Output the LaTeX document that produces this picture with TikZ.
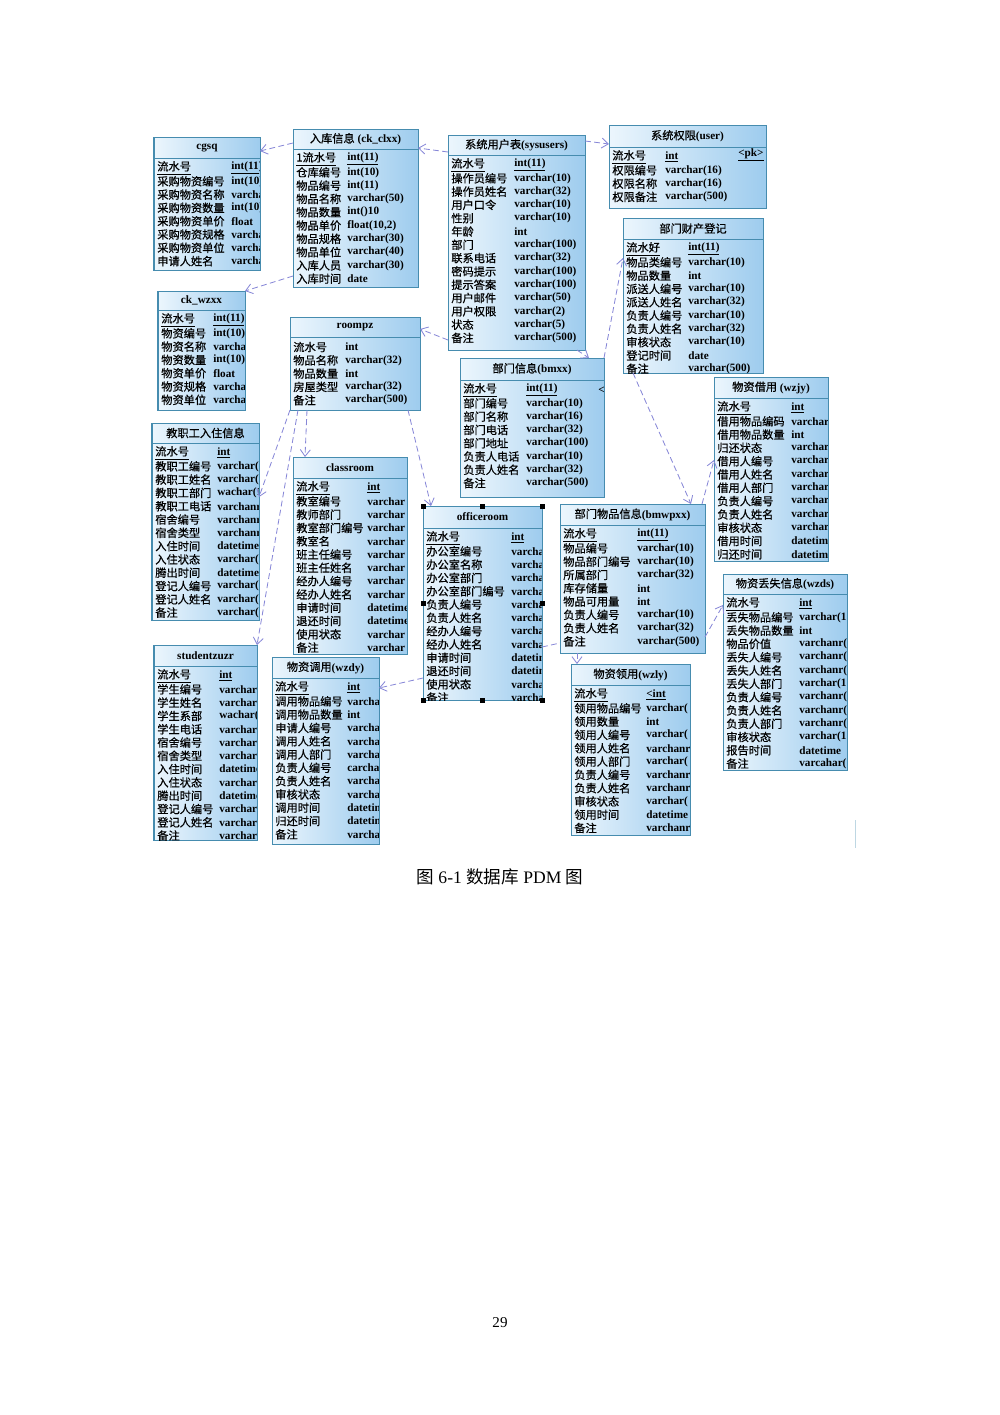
\documentclass[tikz,border=0pt]{standalone}
\usepackage{fontspec}
\setmainfont{Liberation Serif}
\newfontfamily\cjk[FakeBold=0.6]{Noto Sans CJK SC}
\newfontfamily\cjkplain{Noto Sans CJK SC}
\usetikzlibrary{arrows.meta}

\definecolor{tabborder}{RGB}{70,140,175}
\definecolor{tableft}{RGB}{236,246,253}
\definecolor{tabright}{RGB}{158,204,238}
\definecolor{linkcol}{RGB}{135,135,215}

\tikzset{
	tabbox/.style={draw=tabborder, line width=0.6pt, left color=tableft, right color=tabright, inner sep=0pt, outer sep=0pt},
	tabline/.style={draw=tabborder, line width=0.6pt},
	tabtitle/.style={font=\fontsize{6.7}{8}\selectfont, inner sep=0pt},
	fieldname/.style={anchor=west, font=\cjk\fontsize{6.7}{8}\selectfont, inner sep=0pt},
	fieldtype/.style={anchor=west, font=\bfseries\fontsize{6.7}{8}\selectfont, inner sep=0pt},
	linkplain/.style={draw=linkcol, line width=0.5pt, dash pattern=on 3.5pt off 2pt},
	link/.style={linkplain, -{Straight Barb[length=4pt,width=6pt]}}
}

\newcommand{\pdmtable}[9]{%
	\node[tabbox, anchor=north west, minimum width={(#4-#2)*0.021cm}, minimum height={(#5-#3)*0.021cm}] (#1) at (#2,#3) {};
	\draw[tabline] (#1.west |- 0,#6) -- (#1.east |- 0,#6);
	\node[tabtitle] (#1-title) at ({(#2+#4)/2},{(#3+#6)/2}) {#8};
	\begin{scope}
		\clip ({#2+1},#3) rectangle ({#4-1},#5);
		\foreach \fname/\ftype [count=\rowno] in {#9}{
			\node[fieldname] (#1-n\rowno) at ({#2+3},{#6+10+(\rowno-1)*13.3}) {\fname};
			\node[fieldtype] (#1-t\rowno) at (#7,{#6+10+(\rowno-1)*13.3}) {\ftype};
		}
	\end{scope}
}

\begin{document}
\begin{tikzpicture}[x=0.021cm,y=-0.021cm]
	\useasboundingbox (0,0) rectangle (1000,1415);

	\pdmtable{cgsq}{154}{137}{260}{270}{158}{231}{\textbf{cgsq}}{{\underline{流水号}}/{\underline{int(11)}},采购物资编号/int(10),采购物资名称/varchar,采购物资数量/int(10),采购物资单价/float,采购物资规格/varchar,采购物资单位/varchar,申请人姓名/varchar}
	\pdmtable{ckclxx}{293}{129}{418}{287}{149}{347}{{\cjk 入库信息} \textbf{(ck\_clxx)}}{{\underline{1流水号}}/{\underline{int(11)}},仓库编号/int(10),物品编号/int(11),物品名称/varchar(50),物品数量/int()10,物品单价/{float(10,2)},物品规格/varchar(30),物品单位/varchar(40),入库人员/varchar(30),入库时间/date}
	\pdmtable{sysusers}{448}{135}{585}{350}{155}{514}{{\cjk 系统用户表}\textbf{(sysusers)}}{{\underline{流水号}}/{\underline{int(11)}},操作员编号/varchar(10),操作员姓名/varchar(32),用户口令/varchar(10),性别/varchar(10),年龄/int,部门/varchar(100),联系电话/varchar(32),密码提示/varchar(100),提示答案/varchar(100),用户邮件/varchar(50),用户权限/varchar(2),状态/varchar(5),备注/varchar(500)}
	\pdmtable{user}{609}{125}{766}{208}{147}{665}{{\cjk 系统权限}\textbf{(user)}}{{\underline{流水号}}/{\underline{int}},权限编号/varchar(16),权限名称/varchar(16),权限备注/varchar(500)}
	\node[fieldtype] (user-pk) at (738,155) {\underline{<pk>}};
	\pdmtable{bmcc}{623}{218}{763}{373}{239}{688}{{\cjk 部门财产登记}}{{\underline{流水好}}/{\underline{int(11)}},物品类编号/varchar(10),物品数量/int,派送人编号/varchar(10),派送人姓名/varchar(32),负责人编号/varchar(10),负责人姓名/varchar(32),审核状态/varchar(10),登记时间/date,备注/varchar(500)}
	\pdmtable{ckwzxx}{158}{291}{245}{410}{310}{213}{\textbf{ck\_wzxx}}{{\underline{流水号}}/{\underline{int(11)}},物资编号/int(10),物资名称/varchar,物资数量/int(10),物资单价/float,物资规格/varchar,物资单位/varchar}
	\pdmtable{roompz}{290}{317}{420}{410}{337}{345}{\textbf{roompz}}{流水号/int,物品名称/varchar(32),物品数量/int,房屋类型/varchar(32),备注/varchar(500)}
	\pdmtable{bmxx}{460}{358}{604}{497}{380}{526}{{\cjk 部门信息}\textbf{(bmxx)}}{{\underline{流水号}}/{\underline{int(11)}},部门编号/varchar(10),部门名称/varchar(16),部门电话/varchar(32),部门地址/varchar(100),负责人电话/varchar(10),负责人姓名/varchar(32),备注/varchar(500)}
	\node[fieldtype] (bmxx-pk) at (598,390) {<};
	\pdmtable{wzjy}{714}{377}{828}{561}{398}{791}{{\cjk 物资借用} \textbf{(wzjy)}}{{\underline{流水号}}/{\underline{int}},借用物品编码/varchar,借用物品数量/int,归还状态/varchar(,借用人编号/varchar(,借用人姓名/varchar(,借用人部门/varchar(,负责人编号/varchar(,负责人姓名/varchar(,审核状态/varchar(,借用时间/datetime,归还时间/datetime}
	\pdmtable{jzgrz}{152}{423}{259}{620}{443}{217}{{\cjk 教职工入住信息}}{{\underline{流水号}}/{\underline{int}},教职工编号/varchar(,教职工姓名/varchar(,教职工部门/wachar(1,教职工电话/varchanr,宿舍编号/varchanr,宿舍类型/varchanr,入住时间/datetime,入住状态/varchar(,腾出时间/datetime,登记人编号/varchar(,登记人姓名/varchar(,备注/varchar(}
	\pdmtable{classroom}{293}{457}{407}{654}{478}{367}{\textbf{classroom}}{{\underline{流水号}}/{\underline{int}},教室编号/varchar,教师部门/varchar,教室部门编号/varchar,教室名/varchar,班主任编号/varchar,班主任姓名/varchar,经办人编号/varchar,经办人姓名/varchar,申请时间/datetime,退还时间/datetime,使用状态/varchar,备注/varchar}
	\pdmtable{officeroom}{423}{506}{542}{700}{528}{511}{\textbf{officeroom}}{{\underline{流水号}}/{\underline{int}},办公室编号/varchar,办公室名称/varchar,办公室部门/varchar,办公室部门编号/varchar,负责人编号/varchar,负责人姓名/varchar,经办人编号/varchar,经办人姓名/varchar,申请时间/datetime,退还时间/datetime,使用状态/varchar,备注/varchar}
	\foreach \hd in {north west,north,north east,east,south east,south,south west,west}
		\fill[black] (officeroom.\hd) ++(-2.5,-2.5) rectangle ++(5,5);
	\pdmtable{bmwpxx}{560}{504}{705}{653}{525}{637}{{\cjk 部门物品信息}\textbf{(bmwpxx)}}{{\underline{流水号}}/{\underline{int(11)}},物品编号/varchar(10),物品部门编号/varchar(10),所属部门/varchar(32),库存储量/int,物品可用量/int,负责人编号/varchar(10),负责人姓名/varchar(32),备注/varchar(500)}
	\pdmtable{wzly}{571}{664}{690}{835}{685}{646}{{\cjk 物资领用}\textbf{(wzly)}}{{\underline{流水号}}/{\underline{<int}},领用物品编号/varchar(,领用数量/int,领用人编号/varchar(,领用人姓名/varchanr,领用人部门/varchar(,负责人编号/varchanr,负责人姓名/varchanr,审核状态/varchar(,领用时间/datetime,备注/varchanr}
	\pdmtable{wzds}{723}{574}{847}{770}{594}{799}{{\cjk 物资丢失信息}\textbf{(wzds)}}{{\underline{流水号}}/{\underline{int}},丢失物品编号/varchar(1,丢失物品数量/int,物品价值/varchanr(,丢失人编号/varchanr(,丢失人姓名/varchanr(,丢失人部门/varchar(1,负责人编号/varchanr(,负责人姓名/varchanr(,负责人部门/varchanr(,审核状态/varchar(1,报告时间/datetime,备注/varcahar(}
	\pdmtable{student}{154}{645}{257}{840}{666}{219}{\textbf{studentzuzr}}{{\underline{流水号}}/{\underline{int}},学生编号/varchar,学生姓名/varchar,学生系部/wachar(,学生电话/varchar,宿舍编号/varchar,宿舍类型/varchar,入住时间/datetime,入住状态/varchar,腾出时间/datetime,登记人编号/varchar,登记人姓名/varchar,备注/varchar}
	\pdmtable{wzdy}{272}{657}{379}{844}{678}{347}{{\cjk 物资调用}\textbf{(wzdy)}}{{\underline{流水号}}/{\underline{int}},调用物品编号/varchar,调用物品数量/int,申请人编号/varchar,调用人姓名/varchar,调用人部门/varchar,负责人编号/carchar,负责人姓名/varchar,审核状态/varchar,调用时间/datetime,归还时间/datetime,备注/varchar}

	\draw[link] (ckclxx.west |- 0,143) -- (cgsq.east |- 0,151);
	\draw[link] (sysusers.west |- 0,152) -- (ckclxx.east |- 0,148);
	\draw[link] (sysusers.east |- 0,141) -- (user.west |- 0,144);
	\draw[link] (ckclxx.west |- 0,276) -- (ckwzxx.north east);
	\draw[link] (sysusers.west |- 0,340) -- (roompz.east |- 0,329);
	\draw[link] (sysusers.south -| 577,0) -- (bmxx.north -| 589,0);
	\draw[link] (bmxx.north east) -- (bmcc.west |- 0,258);
	\draw[link] (bmcc.south -| 633,0) -- (bmwpxx.north -| 691,0);
	\draw[link] (bmwpxx.north -| 702,0) -- (wzjy.west |- 0,460);
	\draw[link] (bmwpxx.east |- 0,637) -- (wzds.west |- 0,605);
	\draw[link] (bmwpxx.south -| 577,0) -- (wzly.north -| 577,0);
	\draw[linkplain] (officeroom.east |- 0,647) -- (bmwpxx.west |- 0,643);
	\draw[link] (officeroom.west |- 0,678) -- (wzdy.east |- 0,688);
	\draw[link] (roompz.south -| 307,0) -- (classroom.north -| 305,0);
	\draw[link] (roompz.south west) -- (jzgrz.east |- 0,497);
	\draw[link] (roompz.south -| 298,0) -- (student.north east);
	\draw[link] (roompz.south -| 408,0) -- (officeroom.north -| 431,0);

	\draw[tabborder!35, line width=0.5pt] (855,820) -- (855,848);

	\node[font=\fontsize{10.5}{12}\selectfont] (caption) at (500,877) {{\cjkplain 图} 6-1 {\cjkplain 数据库} PDM {\cjkplain 图}};
	\node[font=\fontsize{9}{11}\selectfont] (pageno) at (500,1323) {29};
\end{tikzpicture}
\end{document}
